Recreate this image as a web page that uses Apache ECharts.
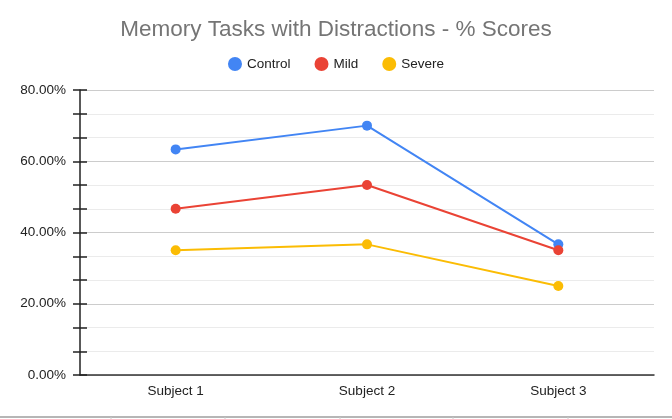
<!DOCTYPE html>
<html><head><meta charset="utf-8">
<script src="https://cdn.jsdelivr.net/npm/echarts@6/dist/echarts.min.js"></script>
<style>html,body{margin:0;padding:0;background:#fff}#c{width:672px;height:419px}</style>
</head><body><div id="c"></div>
<script>
var categories = ['Subject 1', 'Subject 2', 'Subject 3'];
var controlVals = [0.6333, 0.70, 0.3667];
var mildVals = [0.4667, 0.5333, 0.35];
var severeVals = [0.35, 0.3667, 0.25];
var seriesNames = ['Control', 'Mild', 'Severe'];
var colors = ['#4285F4', '#EA4335', '#FBBC04'];
var ff = 'Liberation Sans, Arial, sans-serif';

var chart = echarts.init(document.getElementById('c'));
function mk(name, data, color) {
  return {name: name, type: 'line', data: data, symbol: 'circle', symbolSize: 10,
    itemStyle: {color: color}, lineStyle: {color: color, width: 2}, yAxisIndex: 0};
}
chart.setOption({
  animation: false,
  backgroundColor: '#fff',
  title: {text: 'Memory Tasks with Distractions - % Scores', left: 'center', top: 13,
    textStyle: {fontFamily: ff, fontSize: 22.5, fontWeight: 'normal', color: '#757575'}},
  legend: {top: 52, left: 'center', icon: 'circle', itemWidth: 14, itemHeight: 14, itemGap: 24,
    textStyle: {fontFamily: ff, fontSize: 13.5, color: '#222'}, data: seriesNames},
  grid: {left: 80, right: 18, top: 90, bottom: 44, containLabel: false},
  xAxis: {type: 'category', data: categories, boundaryGap: true,
    axisLine: {lineStyle: {color: '#333', width: 1.5}}, axisTick: {show: false},
    axisLabel: {fontFamily: ff, fontSize: 13.5, color: '#222', margin: 9}},
  yAxis: [{type: 'value', min: 0, max: 0.8, interval: 0.2,
    axisLine: {show: true, lineStyle: {color: '#222', width: 1.5}},
    axisTick: {show: true, length: 7, lineStyle: {color: '#222', width: 1.5}},
    minorTick: {show: true, splitNumber: 3, length: 7, lineStyle: {color: '#222', width: 1.5}},
    splitLine: {lineStyle: {color: '#cccccc'}},
    minorSplitLine: {show: true, lineStyle: {color: '#ebebeb'}},
    axisLabel: {fontFamily: ff, fontSize: 13.5, color: '#222', margin: 14,
      formatter: function (v) { return (v * 100).toFixed(2) + '%'; }}},
   {type: 'value', min: 0, max: 0.8, interval: 0.2, position: 'left',
    axisLine: {show: false},
    axisTick: {show: true, inside: true, length: 7, lineStyle: {color: '#222', width: 1.5}},
    minorTick: {show: true, splitNumber: 3, length: 7, lineStyle: {color: '#222', width: 1.5}},
    splitLine: {show: false}, axisLabel: {show: false}}],
  graphic: [
    {type: 'line', shape: {x1: 0, y1: 417, x2: 672, y2: 417}, style: {stroke: '#9e9e9e', lineWidth: 1.5}},
    {type: 'line', shape: {x1: 111, y1: 417, x2: 111, y2: 419}, style: {stroke: '#ccc'}},
    {type: 'line', shape: {x1: 225, y1: 417, x2: 225, y2: 419}, style: {stroke: '#ccc'}},
    {type: 'line', shape: {x1: 340, y1: 417, x2: 340, y2: 419}, style: {stroke: '#ccc'}},
    {type: 'line', shape: {x1: 453, y1: 417, x2: 453, y2: 419}, style: {stroke: '#ccc'}},
    {type: 'line', shape: {x1: 568, y1: 417, x2: 568, y2: 419}, style: {stroke: '#ccc'}}
  ],
  series: [mk(seriesNames[0], controlVals, colors[0]), mk(seriesNames[1], mildVals, colors[1]), mk(seriesNames[2], severeVals, colors[2])]
});
</script></body></html>
